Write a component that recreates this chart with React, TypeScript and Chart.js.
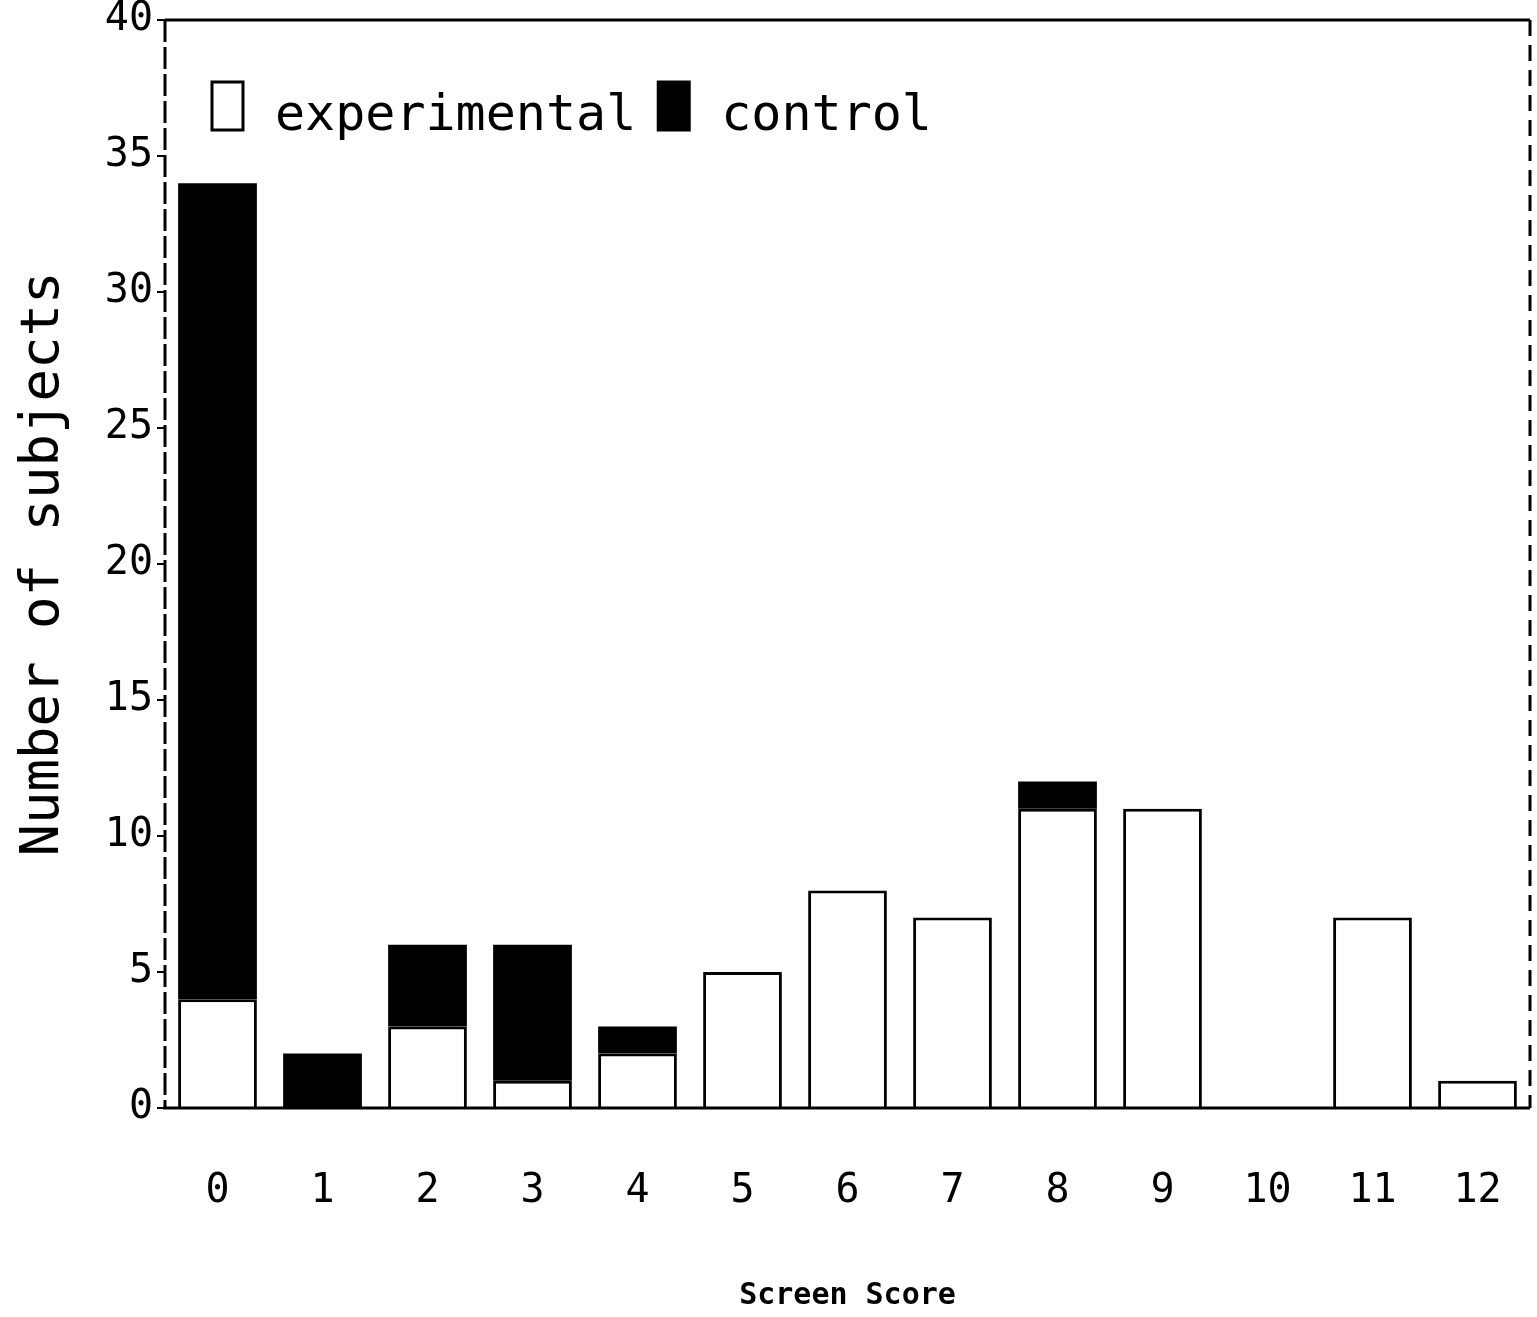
import React, { useEffect, useRef } from "react";
import { Chart, registerables } from "chart.js";

Chart.register(...registerables);

const categories = ["0", "1", "2", "3", "4", "5", "6", "7", "8", "9", "10", "11", "12"];
const experimental = [4, 0, 3, 1, 2, 5, 8, 7, 11, 11, 0, 7, 1];
const control = [30, 2, 3, 5, 1, 0, 0, 0, 1, 0, 0, 0, 0];
const yTicks = [0, 5, 10, 15, 20, 25, 30, 35, 40];
const seriesLabels = ["experimental", "control"];

const MONO = "'DejaVu Sans Mono', monospace";

const framePlugin = {
  id: "frame",
  afterDatasetsDraw(chart: any) {
    const { ctx, chartArea: a } = chart;
    ctx.save();
    ctx.strokeStyle = "#000";
    ctx.lineWidth = 3;
    ctx.setLineDash([]);
    ctx.beginPath();
    ctx.moveTo(a.left, a.top);
    ctx.lineTo(a.right, a.top);
    ctx.moveTo(a.left - 2, a.bottom);
    ctx.lineTo(a.right, a.bottom);
    ctx.stroke();
    ctx.setLineDash([22, 5]);
    ctx.beginPath();
    ctx.moveTo(a.left, a.top);
    ctx.lineTo(a.left, a.bottom);
    ctx.stroke();
    ctx.setLineDash([16, 9]);
    ctx.beginPath();
    ctx.moveTo(a.right, a.top);
    ctx.lineTo(a.right, a.bottom);
    ctx.stroke();
    ctx.restore();
  },
};

const legendPlugin = {
  id: "innerLegend",
  afterDraw(chart: any) {
    const { ctx, chartArea: a } = chart;
    const ds = chart.data.datasets;
    ctx.save();
    ctx.font = `50px ${MONO}`;
    ctx.textBaseline = "alphabetic";
    ctx.fillStyle = "#000";
    let x = a.left + 47;
    const top = a.top + 62;
    const base = a.top + 110;
    ds.forEach((d: any, i: number) => {
      ctx.fillStyle = d.backgroundColor;
      ctx.fillRect(x, top, 31, 48);
      ctx.strokeStyle = "#000";
      ctx.lineWidth = 3;
      ctx.strokeRect(x, top, 31, 48);
      ctx.fillStyle = "#000";
      ctx.fillText(d.label, x + 63, base);
      x += 63 + ctx.measureText(d.label).width + (i === 0 ? 22 : 0);
    });
    ctx.restore();
  },
};

export default function App() {
  const ref = useRef<HTMLCanvasElement>(null);
  useEffect(() => {
    if (!ref.current) return;
    const chart = new Chart(ref.current, {
      type: "bar",
      data: {
        labels: categories,
        datasets: [
          {
            label: seriesLabels[0],
            data: experimental,
            backgroundColor: "#ffffff",
            borderColor: "#000000",
            borderWidth: 3,
            barPercentage: 0.75,
            categoryPercentage: 1,
          },
          {
            label: seriesLabels[1],
            data: control,
            backgroundColor: "#000000",
            borderColor: "#000000",
            borderWidth: 0,
            barPercentage: 0.75,
            categoryPercentage: 1,
          },
        ],
      },
      options: {
        responsive: false,
        animation: false,
        layout: { padding: { top: 20, right: 7, left: 0, bottom: 0 } },
        plugins: {
          legend: { display: false },
          tooltip: { enabled: false },
        },
        scales: {
          x: {
            stacked: true,
            grid: { display: false },
            border: { display: false },
            ticks: {
              color: "#000",
              font: { family: MONO, size: 40 },
              padding: 52,
            },
            title: {
              display: true,
              text: "Screen Score",
              color: "#000",
              font: { family: MONO, size: 30, weight: "bold" },
              padding: { top: 0, bottom: 3 },
            },
            afterFit(scale: any) {
              scale.height = 209;
              scale.paddingLeft = 0;
              scale.paddingRight = 0;
            },
          },
          y: {
            stacked: true,
            min: 0,
            max: 40,
            afterBuildTicks(scale: any) {
              scale.ticks = yTicks.map((v) => ({ value: v }));
            },
            grid: {
              drawOnChartArea: false,
              tickLength: 8,
              color: "#000",
              lineWidth: 2,
            },
            border: { display: false },
            ticks: {
              color: "#000",
              font: { family: MONO, size: 40 },
              padding: 4,
            },
            title: {
              display: true,
              text: "Number of subjects",
              color: "#000",
              font: { family: MONO, size: 54 },
              padding: { top: 12, bottom: 0 },
            },
            afterFit(scale: any) {
              scale.width = 165;
              scale.paddingTop = 0;
              scale.paddingBottom = 0;
            },
          },
        },
      },
      plugins: [framePlugin, legendPlugin],
    });
    return () => chart.destroy();
  }, []);
  return (
    <div style={{ position: "absolute", left: 0, top: 0, width: 1537, height: 1317, background: "#fff" }}>
      <canvas ref={ref} width={1537} height={1317} style={{ display: "block" }} />
    </div>
  );
}
